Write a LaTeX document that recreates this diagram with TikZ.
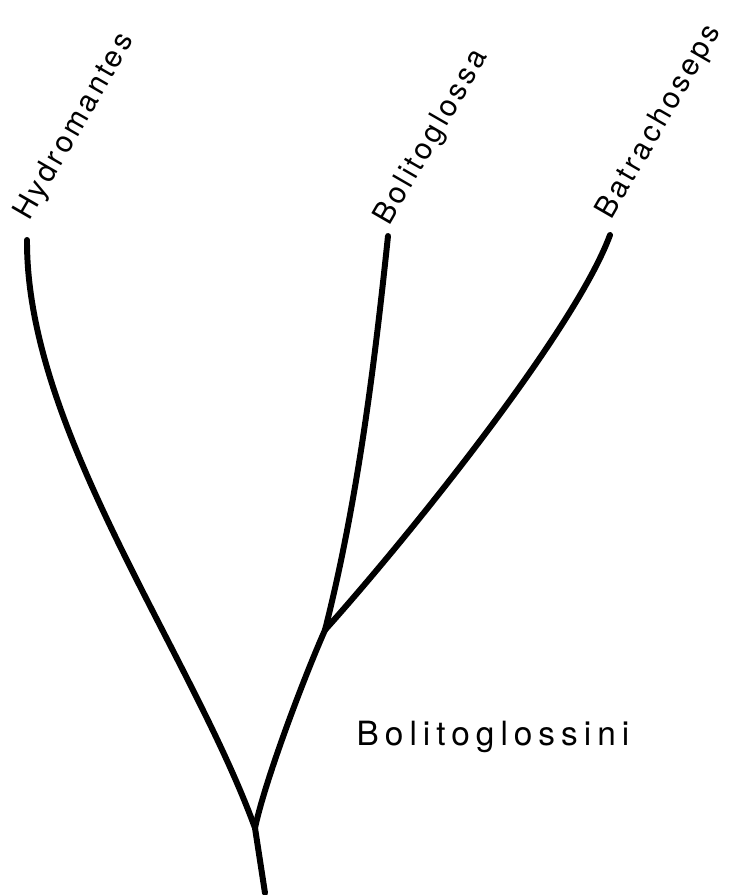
\documentclass[tikz,border=0pt]{standalone}
\usepackage{fontspec}
\newfontfamily\taxonfont{TeX Gyre Heros}[LetterSpace=11]
\newfontfamily\tribefont{TeX Gyre Heros}[LetterSpace=18]
\usetikzlibrary{positioning}

\begin{document}
\begin{tikzpicture}[x=0.02cm, y=-0.02cm,
    branch/.style={line width=3.4pt, line cap=round, line join=round},
    taxon/.style={font=\taxonfont\fontsize{17}{20}\selectfont, rotate=60, anchor=base west, inner sep=0pt},
    tribe/.style={font=\tribefont\fontsize{19}{23}\selectfont, anchor=base, inner sep=0pt}]
    \useasboundingbox (0,0) rectangle (731,895);

    % Root and branching points
    \coordinate (root) at (265,893);
    \coordinate (split1) at (255,828);
    \coordinate (split2) at (325,630);

    % Tips
    \coordinate (hydro) at (27,240);
    \coordinate (bolito) at (388,236);
    \coordinate (batra) at (610,235);

    % Branches
    \draw[branch] (root) -- (split1);
    \draw[branch] (split1) .. controls (190,650) and (26,430) .. (hydro);
    \draw[branch] (split1) .. controls (265,780) and (305,675) .. (split2);
    \draw[branch] (split2) .. controls (358,500) and (375,360) .. (bolito);
    \draw[branch] (split2) .. controls (410,535) and (575,330) .. (batra);

    % Labels
    \node[taxon] (hydrolabel) at (29,222) {Hydromantes};
    \node[taxon] (bolitolabel) at (389,227) {Bolitoglossa};
    \node[taxon] (batralabel) at (611,221) {Batrachoseps};
    \node[tribe] (tribe) at (493,745) {Bolitoglossini};
\end{tikzpicture}
\end{document}
